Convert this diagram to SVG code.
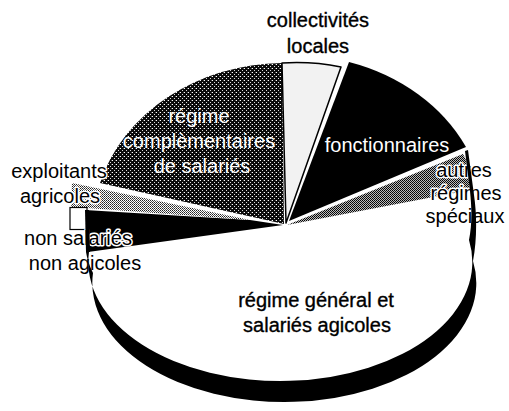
<svg xmlns="http://www.w3.org/2000/svg" width="509" height="411" viewBox="0 0 509 411">
  <defs>
    <!-- halftone fills -->
    <pattern id="darkDots" width="4" height="4" patternUnits="userSpaceOnUse">
      <rect width="4" height="4" fill="#0a0a0a"/>
      <rect x="0" y="0" width="1" height="1" fill="#fff"/>
      <rect x="2" y="2" width="1" height="1" fill="#ddd"/>
      <rect x="3" y="0" width="1" height="1" fill="#555"/>
    </pattern>
    <pattern id="midCheck" width="2" height="2" patternUnits="userSpaceOnUse">
      <rect width="2" height="2" fill="#bbb"/>
      <rect x="0" y="0" width="1" height="1" fill="#000"/>
      <rect x="1" y="1" width="1" height="1" fill="#111"/>
    </pattern>
    <pattern id="lightCheck" width="2" height="2" patternUnits="userSpaceOnUse">
      <rect width="2" height="2" fill="#fff"/>
      <rect x="0" y="0" width="1" height="1" fill="#222"/>
      <rect x="1" y="1" width="1" height="1" fill="#555"/>
    </pattern>
  </defs>
  <style>
    .lbl { font-family: "Liberation Sans", Arial, sans-serif; font-size: 20px; fill: #000; stroke: #000; stroke-width: 0.35; text-anchor: middle; }
    .halo { stroke: #fff; stroke-width: 3; paint-order: stroke; stroke-linejoin: round; }
    .inv { font-family: "Liberation Sans", Arial, sans-serif; font-size: 20px; fill: #fff; text-anchor: middle; }
    .edge { stroke: #000; stroke-width: 1.5; stroke-linejoin: round; }
  </style>
  <rect width="509" height="411" fill="#fff"/>

  <!-- pie slices -->
  <g id="regime-general">
    <path fill="#fff" d="M 283,225 L 470,191 C 472,210 472,225 469,240 A 192,119 0 1 1 89,252 Z"/>
  </g>
  <g id="non-salaries">
    <path fill="#000" d="M 283,225 L 88,252 L 85,210 L 250,220 Z"/>
  </g>
  <g id="exploitants">
    <path fill="url(#lightCheck)" d="M 250,220 L 72,183 L 71,207 L 87,208 Z"/>
    <rect x="70" y="207.5" width="17" height="22" fill="#fff" stroke="#000" stroke-width="1.2"/>
  </g>
  <g id="regime-complementaire">
    <path fill="url(#darkDots)" d="M 284,224 L 100,183 A 192,165 0 0 1 282,63 Z"/>
  </g>
  <g id="collectivites">
    <path fill="#f2f2f2" class="edge" d="M 286,223 L 282,63 A 192,165 0 0 1 341,67 Z"/>
  </g>
  <g id="fonctionnaires">
    <path fill="#000" d="M 289,221 L 349,62 A 192,165 0 0 1 466,147 Z"/>
  </g>
  <g id="autres-regimes">
    <path fill="url(#midCheck)" d="M 287,225 L 463,154 L 466,160 L 470,190 Z"/>
  </g>

  <!-- labels -->
  <g id="labels">
    <text class="lbl" x="318" y="27">collectivités</text>
    <text class="lbl" x="318" y="53">locales</text>
    <text class="inv" x="199" y="123">régime</text>
    <text class="inv" x="199" y="148">complèmentaires</text>
    <text class="inv" x="202" y="173">de salariés</text>
    <text class="inv" x="387" y="152">fonctionnaires</text>
    <text class="lbl halo" x="464" y="177">autres</text>
    <text class="lbl halo" x="466" y="200">régimes</text>
    <text class="lbl halo" x="465" y="223">spéciaux</text>
    <text class="lbl halo" x="59" y="178">exploitants</text>
    <text class="lbl halo" x="60" y="203">agricoles</text>
    <text class="lbl halo" x="78" y="245">non salariés</text>
    <text class="lbl halo" x="85" y="270">non agicoles</text>
    <text class="lbl" x="316" y="307">régime général et</text>
    <text class="lbl" x="317" y="332">salariés agicoles</text>
  </g>

  <!-- side of the front slice, drawn over the left labels -->
  <g id="rim">
    <path fill="#000" d="M 89,252 A 192,119 0 1 0 469,240 C 472,225 472,210 470,191 L 465,151 L 468,150 L 474,195 C 477,215 477,240 473,261 A 192,119 0 1 1 93,273 C 89,265 87,258 86,252 Z"/>
    <path fill="#000" d="M 85,210 L 89,210 L 90,252 L 86,252 Z"/>
  </g>
</svg>
